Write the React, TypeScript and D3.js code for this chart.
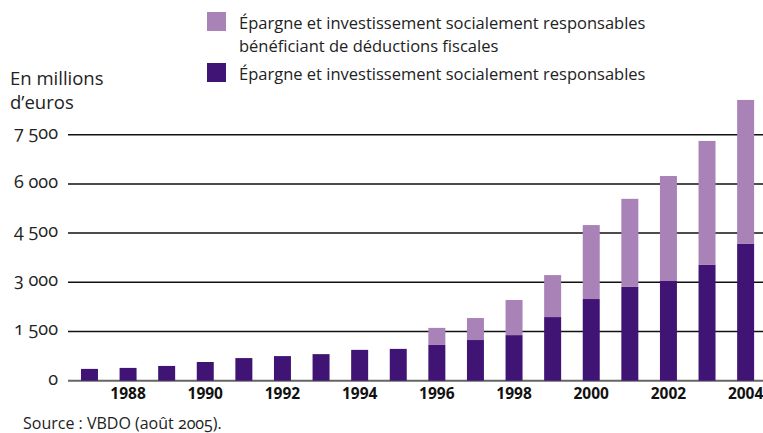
import { scaleBand, scaleLinear, stack } from 'd3';
import React from 'react';

const WIDTH = 763;
const HEIGHT = 433;

const YEARS = [
  1987, 1988, 1989, 1990, 1991, 1992, 1993, 1994, 1995, 1996, 1997, 1998, 1999, 2000, 2001, 2002,
  2003, 2004,
];
// Épargne et investissement socialement responsables
const ISR = [
  360, 390, 450, 570, 690, 750, 810, 940, 970, 1090, 1240, 1390, 1940, 2490, 2860, 3040, 3530, 4170,
];
// ... bénéficiant de déductions fiscales
const ISR_FISCAL = [0, 0, 0, 0, 0, 0, 0, 0, 0, 520, 670, 1070, 1280, 2255, 2685, 3200, 3780, 4390];

const Y_TICKS = [0, 1500, 3000, 4500, 6000, 7500];
const X_LABELS = [1988, 1990, 1992, 1994, 1996, 1998, 2000, 2002, 2004];

const SERIES = ['isr', 'fiscal'];
const COLORS: Record<string, string> = { isr: '#3f1474', fiscal: '#a982b8' };
const LEGEND = [
  { key: 'fiscal', lines: ['Épargne et investissement socialement responsables', 'bénéficiant de déductions fiscales'] },
  { key: 'isr', lines: ['Épargne et investissement socialement responsables'] },
];

const FONT = '"Open Sans", "Noto Sans", sans-serif';
const OLDSTYLE: React.CSSProperties = {
  fontFamily: FONT,
  fontVariantNumeric: 'oldstyle-nums',
  fontFeatureSettings: '"onum" 1',
};

const fmt = (v: number) => (v >= 1000 ? `${Math.floor(v / 1000)} ${String(v % 1000).padStart(3, '0')}` : `${v}`);

const x = scaleBand<number>().domain(YEARS).range([69.4, 765.7]).paddingInner(0.56).paddingOuter(0.3);
const y = scaleLinear().domain([0, 7500]).range([380.7, 134.7]);

const App = () => {
  const rows = YEARS.map((year, i) => ({ year, isr: ISR[i], fiscal: ISR_FISCAL[i] }));
  const stacked = stack<any>().keys(SERIES)(rows);

  return (
    <svg
      width={WIDTH}
      height={HEIGHT}
      viewBox={`0 0 ${WIDTH} ${HEIGHT}`}
      style={{ position: 'absolute', left: 0, top: 0, fontFamily: FONT }}
    >
      {/* gridlines + y labels */}
      {Y_TICKS.map((t) => (
        <g key={t}>
          <line
            x1={68}
            x2={WIDTH}
            y1={y(t)}
            y2={y(t)}
            stroke={t === 0 ? '#666' : '#111'}
            strokeWidth={t === 0 ? 2 : 1.5}
          />
          <text x={58} y={y(t)} dy="0.22em" textAnchor="end" fontSize={18} fill="#222" style={OLDSTYLE}>
            {fmt(t)}
          </text>
        </g>
      ))}

      {/* bars */}
      {stacked.map((s) => (
        <g key={s.key} fill={COLORS[s.key]}>
          {s
            .filter((d) => d[1] > d[0])
            .map((d) => (
              <rect
                key={d.data.year}
                x={x(d.data.year)}
                y={y(d[1])}
                width={x.bandwidth()}
                height={y(d[0]) - y(d[1])}
              />
            ))}
        </g>
      ))}

      {/* x labels */}
      {X_LABELS.map((yr) => (
        <text
          key={yr}
          x={x(yr)! + x.bandwidth() / 2}
          y={399}
          textAnchor="middle"
          fontSize={15.5}
          fontWeight={700}
          fill="#111"
        >
          {yr}
        </text>
      ))}

      {/* y title */}
      <text fontSize={18.5} fill="#222">
        <tspan x={10} y={85}>
          En millions
        </tspan>
        <tspan x={10} y={109}>
          d’euros
        </tspan>
      </text>

      {/* legend */}
      {LEGEND.map((l, i) => (
        <g key={l.key} transform={`translate(207, ${[12, 63][i]})`}>
          <rect width={19} height={19} fill={COLORS[l.key]} />
          <text fontSize={16.5} fill="#222">
            {l.lines.map((line, j) => (
              <tspan key={j} x={32} y={17 + j * 23}>
                {line}
              </tspan>
            ))}
          </text>
        </g>
      ))}

      <text x={23} y={429} fontSize={16} fill="#222" style={OLDSTYLE}>
        Source : VBDO (août 2005).
      </text>
    </svg>
  );
};

export default App;
